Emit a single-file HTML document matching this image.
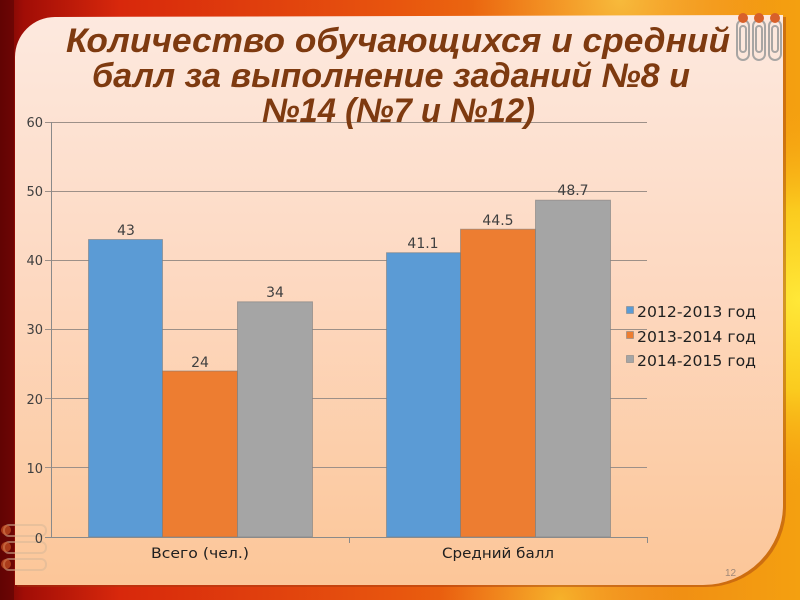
<!DOCTYPE html>
<html>
<head>
<meta charset="utf-8">
<style>
html,body{margin:0;padding:0;width:800px;height:600px;overflow:hidden;background:#c03010;}
svg{display:block;}
</style>
</head>
<body>
<svg width="800" height="600" viewBox="0 0 800 600" xmlns="http://www.w3.org/2000/svg">
  <defs>
    <linearGradient id="bgH" x1="0" y1="0" x2="1" y2="0">
      <stop offset="0" stop-color="#6e0604"/>
      <stop offset="0.03" stop-color="#a10d06"/>
      <stop offset="0.15" stop-color="#d8280c"/>
      <stop offset="0.5" stop-color="#e8560e"/>
      <stop offset="0.8" stop-color="#f08a14"/>
      <stop offset="1" stop-color="#f4a010"/>
    </linearGradient>
    <radialGradient id="glowR" cx="800" cy="300" r="200" gradientUnits="userSpaceOnUse">
      <stop offset="0" stop-color="#ffe838" stop-opacity="1"/>
      <stop offset="0.45" stop-color="#fbd020" stop-opacity="0.9"/>
      <stop offset="1" stop-color="#f8a010" stop-opacity="0"/>
    </radialGradient>
    <radialGradient id="glowT" cx="620" cy="0" r="150" gradientUnits="userSpaceOnUse">
      <stop offset="0" stop-color="#f8c040" stop-opacity="0.9"/>
      <stop offset="1" stop-color="#f8a030" stop-opacity="0"/>
    </radialGradient>
    <radialGradient id="glowB" cx="560" cy="600" r="120" gradientUnits="userSpaceOnUse">
      <stop offset="0" stop-color="#f8c030" stop-opacity="0.8"/>
      <stop offset="1" stop-color="#f8a030" stop-opacity="0"/>
    </radialGradient>
    <linearGradient id="panel" x1="0" y1="0" x2="0" y2="1">
      <stop offset="0" stop-color="#fde9df"/>
      <stop offset="0.45" stop-color="#fdd9c2"/>
      <stop offset="1" stop-color="#fcc698"/>
    </linearGradient>
  </defs>

  <!-- background -->
  <rect x="0" y="0" width="800" height="600" fill="url(#bgH)"/>
  <rect x="0" y="0" width="800" height="600" fill="url(#glowR)"/>
  <rect x="0" y="0" width="800" height="600" fill="url(#glowT)"/>
  <rect x="0" y="0" width="800" height="600" fill="url(#glowB)"/>
  <rect x="0" y="0" width="14" height="600" fill="#5a0403" opacity="0.6"/>

  <!-- panel shadow -->
  <path d="M17,59 A40,40 0 0 1 57,19 L786,17 L786,507 A80,80 0 0 1 706,587 L17,587 Z" fill="#a03a10" opacity="0.45"/>
  <!-- panel -->
  <path d="M15,57 A40,40 0 0 1 55,17 L783,15 L783,505 A80,80 0 0 1 703,585 L15,585 Z" fill="url(#panel)"/>

  <!-- paperclips top right -->
  <g fill="none" stroke="#9a9a9a" stroke-width="2" opacity="0.85">
    <rect x="737" y="20" width="12" height="40" rx="6"/>
    <rect x="740" y="26" width="6" height="26" rx="3"/>
    <rect x="753" y="20" width="12" height="40" rx="6"/>
    <rect x="756" y="26" width="6" height="26" rx="3"/>
    <rect x="769" y="20" width="12" height="40" rx="6"/>
    <rect x="772" y="26" width="6" height="26" rx="3"/>
  </g>
  <g fill="#d8602a">
    <circle cx="743" cy="18" r="5"/>
    <circle cx="759" cy="18" r="5"/>
    <circle cx="775" cy="18" r="5"/>
  </g>
  <!-- paperclips bottom left -->
  <g fill="none" stroke="#d8b898" stroke-width="2" opacity="0.55">
    <rect x="4" y="525" width="42" height="11" rx="5"/>
    <rect x="4" y="542" width="42" height="11" rx="5"/>
    <rect x="4" y="559" width="42" height="11" rx="5"/>
  </g>
  <g fill="#d8602a" opacity="0.6">
    <circle cx="6" cy="530" r="5"/>
    <circle cx="6" cy="547" r="5"/>
    <circle cx="6" cy="564" r="5"/>
  </g>

  <!-- gridlines -->
  <g stroke="#9d9088" stroke-width="1">
    <line x1="45" y1="122.5" x2="647" y2="122.5"/>
    <line x1="45" y1="191.5" x2="647" y2="191.5"/>
    <line x1="45" y1="260.5" x2="647" y2="260.5"/>
    <line x1="45" y1="329.5" x2="647" y2="329.5"/>
    <line x1="45" y1="398.5" x2="647" y2="398.5"/>
    <line x1="45" y1="467.5" x2="647" y2="467.5"/>
  </g>

  <!-- title -->
  <g font-family="'Liberation Sans','DejaVu Sans',sans-serif" font-weight="bold" font-style="italic" font-size="34" fill="#7e3a10">
    <text x="66" y="52" textLength="664" lengthAdjust="spacingAndGlyphs">Количество обучающихся и средний</text>
    <text x="92" y="87" textLength="598" lengthAdjust="spacingAndGlyphs">балл за выполнение заданий №8 и</text>
    <text x="262" y="122" textLength="273" lengthAdjust="spacingAndGlyphs">№14 (№7 и №12)</text>
  </g>

  <!-- bars -->
  <g stroke="#7a7a7a" stroke-opacity="0.55" stroke-width="1">
    <rect x="88.5" y="239.5" width="74" height="297.5" fill="#5b9bd5"/>
    <rect x="162.5" y="371" width="75" height="166" fill="#ed7d31"/>
    <rect x="237.5" y="301.8" width="75" height="235.2" fill="#a5a5a5"/>
    <rect x="386.5" y="252.7" width="74" height="284.3" fill="#5b9bd5"/>
    <rect x="460.5" y="229.2" width="75" height="307.8" fill="#ed7d31"/>
    <rect x="535.5" y="200.2" width="75" height="336.8" fill="#a5a5a5"/>
  </g>

  <!-- axes -->
  <g stroke="#8a8a8a" stroke-width="1">
    <line x1="51.5" y1="122" x2="51.5" y2="537"/>
    <line x1="45" y1="537.5" x2="647" y2="537.5"/>
    <line x1="349.5" y1="537" x2="349.5" y2="543"/>
    <line x1="647.5" y1="537" x2="647.5" y2="543"/>
  </g>

  <!-- y labels -->
  <g font-family="'DejaVu Sans','Liberation Sans',sans-serif" font-size="13" fill="#404040" text-anchor="end">
    <text x="43" y="127">60</text>
    <text x="43" y="196">50</text>
    <text x="43" y="265">40</text>
    <text x="43" y="334">30</text>
    <text x="43" y="404">20</text>
    <text x="43" y="473">10</text>
    <text x="43" y="543">0</text>
  </g>

  <!-- data labels -->
  <g font-family="'DejaVu Sans','Liberation Sans',sans-serif" font-size="14" fill="#404040" text-anchor="middle">
    <text x="126" y="235">43</text>
    <text x="200" y="367">24</text>
    <text x="275" y="297">34</text>
    <text x="423" y="248">41.1</text>
    <text x="498" y="225">44.5</text>
    <text x="573" y="195">48.7</text>
  </g>

  <!-- category labels -->
  <g font-family="'DejaVu Sans','Liberation Sans',sans-serif" font-size="14" fill="#202020" text-anchor="middle">
    <text x="200" y="558" textLength="98" lengthAdjust="spacingAndGlyphs">Всего (чел.)</text>
    <text x="498" y="558" textLength="112" lengthAdjust="spacingAndGlyphs">Средний балл</text>
  </g>

  <!-- legend -->
  <rect x="626.5" y="306.5" width="7" height="7" fill="#5b9bd5" stroke="#888" stroke-width="0.6"/>
  <rect x="626.5" y="331.5" width="7" height="7" fill="#ed7d31" stroke="#888" stroke-width="0.6"/>
  <rect x="626.5" y="355.5" width="7" height="7" fill="#a5a5a5" stroke="#888" stroke-width="0.6"/>
  <g font-family="'DejaVu Sans','Liberation Sans',sans-serif" font-size="15" fill="#202020">
    <text x="637" y="317" textLength="119" lengthAdjust="spacingAndGlyphs">2012-2013 год</text>
    <text x="637" y="342" textLength="119" lengthAdjust="spacingAndGlyphs">2013-2014 год</text>
    <text x="637" y="366" textLength="119" lengthAdjust="spacingAndGlyphs">2014-2015 год</text>
  </g>

  <!-- page number -->
  <text x="725" y="576" font-family="'Liberation Sans',sans-serif" font-size="10" fill="#a08878">12</text>
</svg>
</body>
</html>
